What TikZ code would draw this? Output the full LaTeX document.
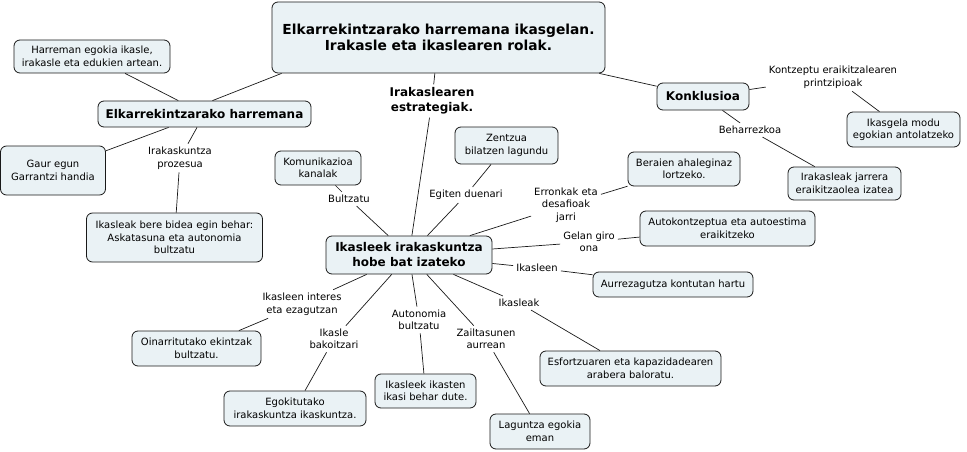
\documentclass[tikz,border=0pt]{standalone}
\usepackage{fontspec}
\setmainfont{DejaVu Sans}
\usetikzlibrary{positioning}
\definecolor{mapfill}{RGB}{234,242,245}
\definecolor{mapline}{RGB}{25,25,25}

\tikzset{
 mapbox/.style={draw=mapline,fill=mapfill,line width=.8pt,rounded corners=6pt,
  align=center,font=\fontsize{10}{12.5}\selectfont,inner sep=2pt},
 keybox/.style={mapbox,font=\fontsize{12}{15}\selectfont\bfseries},
 maplabel/.style={align=center,font=\fontsize{10}{12.5}\selectfont,inner sep=3pt},
 maplink/.style={draw=mapline,line width=.7pt}
}

\begin{document}
\begin{tikzpicture}[x=1pt,y=-1pt]
 \useasboundingbox (0,0) rectangle (967,452);
 % top
 \node[keybox,font=\fontsize{13.8}{16.5}\selectfont\bfseries,minimum width=333,minimum height=71]
  (title) at (438.5,37.5) {Elkarrekintzarako harremana ikasgelan.\\Irakasle eta ikaslearen rolak.};
 \node[mapbox,minimum width=156,minimum height=33] (harreman) at (92,56.5)
  {Harreman egokia ikasle,\\irakasle eta edukien artean.};
 \node[keybox,minimum width=213,minimum height=26] (elk) at (204.5,114) {Elkarrekintzarako harremana};
 \node[mapbox,minimum width=105,minimum height=49] (gaur) at (53,170.5) {Gaur egun\\Garrantzi handia};
 \node[maplabel] (prozesua) at (180,158) {Irakaskuntza\\prozesua};
 \node[mapbox,minimum width=176,minimum height=49] (bidea) at (174.5,237.5)
  {Ikasleak bere bidea egin behar:\\Askatasuna eta autonomia\\bultzatu};
 \node[maplabel,font=\fontsize{12}{15}\selectfont\bfseries] (estrategiak) at (432,101)
  {Irakaslearen\\estrategiak.};
 % right
 \node[keybox,minimum width=92,minimum height=27] (konklusioa) at (703,96.5) {Konklusioa};
 \node[maplabel] (printzipioak) at (833,77) {Kontzeptu eraikitzalearen\\printzipioak};
 \node[mapbox,minimum width=113,minimum height=35] (ikasgela) at (903.5,129.5)
  {Ikasgela modu\\egokian antolatzeko};
 \node[maplabel] (beharrezkoa) at (750,130) {Beharrezkoa};
 \node[mapbox,minimum width=113,minimum height=33] (jarrera) at (844.5,183.5)
  {Irakasleak jarrera\\eraikitzaolea izatea};
 % centre
 \node[keybox,minimum width=166,minimum height=38] (ikasleek) at (409,255)
  {Ikasleek irakaskuntza\\hobe bat izateko};
 \node[mapbox,minimum width=103,minimum height=37] (zentzua) at (506.5,145.5) {Zentzua\\bilatzen lagundu};
 \node[mapbox,minimum width=86,minimum height=34] (kanalak) at (318,168) {Komunikazioa\\kanalak};
 \node[maplabel] (bultzatu) at (349,199) {Bultzatu};
 \node[maplabel] (egiten) at (466,195) {Egiten duenari};
 \node[mapbox,minimum width=112,minimum height=34] (beraien) at (684,169) {Beraien ahaleginaz\\lortzeko.};
 \node[maplabel] (erronkak) at (566,205) {Erronkak eta\\desafioak\\jarri};
 \node[mapbox,minimum width=175,minimum height=35] (autokontz) at (727.5,228.5)
  {Autokontzeptua eta autoestima\\eraikitzeko};
 \node[maplabel] (giro) at (589,242) {Gelan giro\\ona};
 \node[maplabel] (ikasleen) at (537,268) {Ikasleen};
 \node[mapbox,minimum width=160,minimum height=25] (aurre) at (673,284.5) {Aurrezagutza kontutan hartu};
 % bottom
 \node[maplabel] (interes) at (302,304) {Ikasleen interes\\eta ezagutzan};
 \node[mapbox,minimum width=129,minimum height=35] (oinarri) at (196.5,348.5)
  {Oinarritutako ekintzak\\bultzatu.};
 \node[maplabel] (bakoitzari) at (334,339) {Ikasle\\bakoitzari};
 \node[mapbox,minimum width=142,minimum height=35] (egokitu) at (295,408.5)
  {Egokitutako\\irakaskuntza ikaskuntza.};
 \node[maplabel] (autonomia) at (419,320) {Autonomia\\bultzatu};
 \node[mapbox,minimum width=101,minimum height=34] (ikasten) at (425.5,391)
  {Ikasleek ikasten\\ikasi behar dute.};
 \node[maplabel] (zailtasun) at (486,339) {Zailtasunen\\aurrean};
 \node[mapbox,minimum width=100,minimum height=35] (laguntza) at (540,431.5) {Laguntza egokia\\eman};
 \node[maplabel] (ikasleak) at (519,303) {Ikasleak};
 \node[mapbox,minimum width=181,minimum height=35] (esfortzu) at (630.5,368.5)
  {Esfortzuaren eta kapazidadearen\\arabera baloratu.};
 % links
 \draw[maplink] ([xshift=10]title.south west) -- ([xshift=8]elk.north);
 \draw[maplink] (harreman) -- (elk);
 \draw[maplink] (elk) -- (gaur);
 \draw[maplink] (elk) -- (prozesua) -- (bidea);
 \draw[maplink] (title) -- (estrategiak) -- (ikasleek);
 \draw[maplink] (title) -- (konklusioa);
 \draw[maplink] (konklusioa) -- (printzipioak) -- (ikasgela);
 \draw[maplink] (konklusioa) -- (beharrezkoa) -- (jarrera);
 \draw[maplink] (ikasleek) -- (bultzatu) -- (kanalak);
 \draw[maplink] (ikasleek) -- (egiten) -- (zentzua);
 \draw[maplink] (ikasleek) -- (erronkak) -- (beraien);
 \draw[maplink] (ikasleek) -- (giro) -- (autokontz);
 \draw[maplink] (ikasleek) -- (ikasleen) -- (aurre);
 \draw[maplink] (ikasleek) -- (interes) -- (oinarri);
 \draw[maplink] (ikasleek) -- (bakoitzari) -- (egokitu);
 \draw[maplink] (ikasleek) -- (autonomia) -- (ikasten);
 \draw[maplink] (ikasleek) -- (zailtasun) -- (laguntza);
 \draw[maplink] (ikasleek) -- (ikasleak) -- (esfortzu);
\end{tikzpicture}
\end{document}
